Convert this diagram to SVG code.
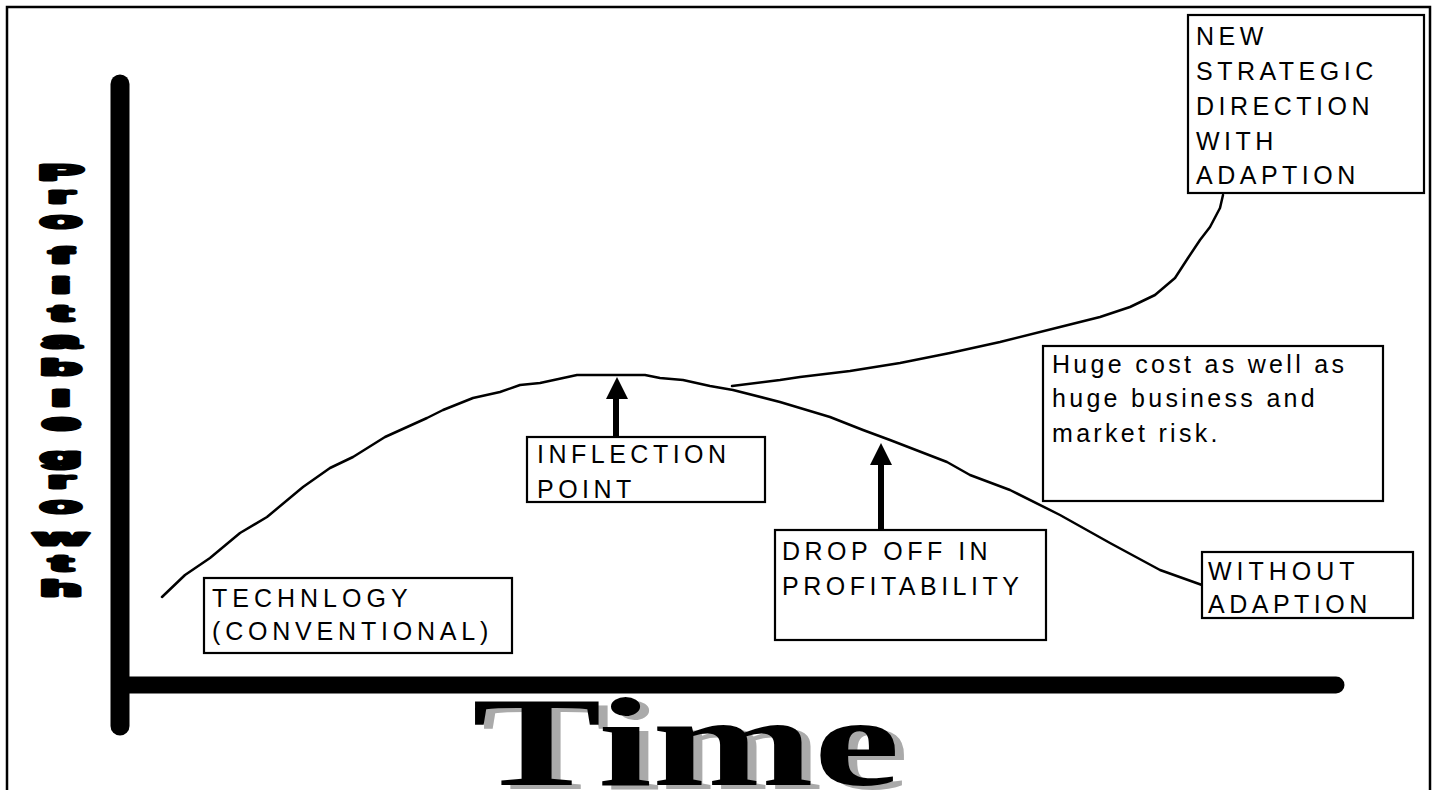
<svg xmlns="http://www.w3.org/2000/svg" width="1436" height="790" viewBox="0 0 1436 790">
<defs>
<style>
.box{fill:#fff;stroke:#000;stroke-width:2.2}
.lbl{font-family:"Liberation Sans",Arial,sans-serif;font-size:25px;fill:#000;letter-spacing:4.5px}
.curve{fill:none;stroke:#000;stroke-width:2.5;stroke-linejoin:round;stroke-linecap:round}
.axis{stroke:#000;stroke-linecap:round}
.shaft{stroke:#000;stroke-width:6}
.vt{font-family:"Liberation Sans",Arial,sans-serif;font-weight:bold;font-size:22px;fill:#000;stroke:#000;stroke-width:3;stroke-linejoin:round;text-anchor:middle}
.time{font-family:"Liberation Serif","Times New Roman",serif;font-weight:bold;font-size:126px}
</style>
</defs>
<rect x="0" y="0" width="1436" height="790" fill="#fff"/>
<path d="M7,800 V7 H1430 V800" fill="none" stroke="#000" stroke-width="2.5"/>

<g id="axes">
<line class="axis" x1="120" y1="84" x2="120" y2="726" stroke-width="19"/>
<line class="axis" x1="120" y1="685" x2="1336" y2="685" stroke-width="17"/>
</g>

<g id="y-label" transform="translate(61,0) scale(3,1)">
<text class="vt" x="0" y="180">P</text>
<text class="vt" x="0" y="203">r</text>
<text class="vt" x="0" y="228">o</text>
<text class="vt" x="0" y="263">f</text>
<text class="vt" x="0" y="293">i</text>
<text class="vt" x="0" y="321">t</text>
<text class="vt" x="0" y="348">a</text>
<text class="vt" x="0" y="375">b</text>
<text class="vt" x="0" y="406">l</text>
<text class="vt" x="0" y="430">e</text>
<text class="vt" x="0" y="464">g</text>
<text class="vt" x="0" y="488">r</text>
<text class="vt" x="0" y="513">o</text>
<text class="vt" x="0" y="545">w</text>
<text class="vt" x="0" y="571">t</text>
<text class="vt" x="0" y="596">h</text>
</g>

<g id="x-label">
<text class="time" x="481" y="789" fill="#aaaaaa" textLength="428" lengthAdjust="spacingAndGlyphs">Time</text>
<text class="time" x="472" y="785" fill="#000" textLength="428" lengthAdjust="spacingAndGlyphs">Time</text>
</g>

<g id="connectors">
<polyline class="curve" points="162,597 185,575 210,558 240,533 267,517 303,487 330,468 353,457 385,437 427,418 443,410 473,398 500,392 520,385 540,383 577,375 645,375 660,378 683,380 710,386 733,390 780,402 830,417 863,430 890,440 947,462 970,475 1010,490 1060,515 1110,543 1160,570 1202,585"/>
<polyline class="curve" points="732,386 780,380 800,377 850,371 900,363 950,353 1000,342 1060,327 1100,317 1130,307 1155,295 1175,278 1188,258 1200,240 1210,227 1220,208 1223,195"/>
<line class="shaft" x1="616" y1="437" x2="616" y2="395"/>
<polygon points="617,377 606,399 628,399" fill="#000"/>
<line class="shaft" x1="881" y1="530" x2="881" y2="462"/>
<polygon points="881,443 870,465 892,465" fill="#000"/>
</g>

<g id="node-new-direction">
<rect class="box" x="1188" y="15" width="236" height="178"/>
<text class="lbl" x="1196" y="45">NEW</text>
<text class="lbl" x="1196" y="80">STRATEGIC</text>
<text class="lbl" x="1196" y="115">DIRECTION</text>
<text class="lbl" x="1196" y="150">WITH</text>
<text class="lbl" x="1196" y="184">ADAPTION</text>
</g>

<g id="node-inflection">
<rect class="box" x="527" y="437" width="238" height="65"/>
<text class="lbl" x="537" y="463">INFLECTION</text>
<text class="lbl" x="537" y="498">POINT</text>
</g>

<g id="node-dropoff">
<rect class="box" x="775" y="530" width="271" height="110"/>
<text class="lbl" x="782" y="560">DROP OFF IN</text>
<text class="lbl" x="782" y="595">PROFITABILITY</text>
</g>

<g id="node-technology">
<rect class="box" x="204" y="578" width="308" height="75"/>
<text class="lbl" x="212" y="607" style="letter-spacing:5px">TECHNLOGY</text>
<text class="lbl" x="212" y="640" style="letter-spacing:4.8px">(CONVENTIONAL)</text>
</g>

<g id="node-huge-cost">
<rect class="box" x="1043" y="346" width="340" height="155"/>
<text class="lbl" x="1052" y="373" style="letter-spacing:3.3px">Huge cost as well as</text>
<text class="lbl" x="1052" y="407" style="letter-spacing:3.3px">huge business and</text>
<text class="lbl" x="1052" y="442" style="letter-spacing:3.3px">market risk.</text>
</g>

<g id="node-without">
<rect class="box" x="1202" y="552" width="211" height="66"/>
<text class="lbl" x="1208" y="580" style="letter-spacing:5px">WITHOUT</text>
<text class="lbl" x="1208" y="613">ADAPTION</text>
</g>
</svg>
